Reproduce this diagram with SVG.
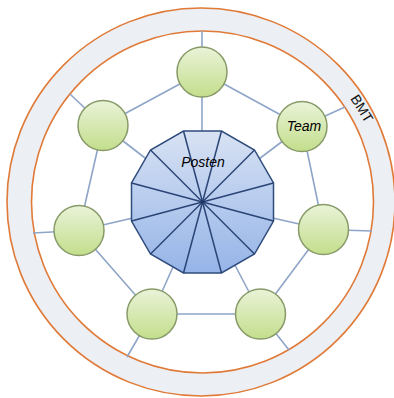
<svg xmlns="http://www.w3.org/2000/svg" width="394" height="398" viewBox="0 0 394 398">
<defs>
<linearGradient id="gBlue" x1="0" y1="0" x2="0" y2="1">
<stop offset="0" stop-color="#d8e2f3"/>
<stop offset="1" stop-color="#95b4e8"/>
</linearGradient>
<linearGradient id="gGreen" x1="0" y1="0" x2="0" y2="1">
<stop offset="0" stop-color="#e9f3d8"/>
<stop offset="1" stop-color="#c3de8c"/>
</linearGradient>
</defs>
<style>
.ring{fill:none;stroke:#e07a38;stroke-width:1.6}
.conn line{stroke:#8ea5c8;stroke-width:1.6}
.team{fill:url(#gGreen);stroke:#879a68;stroke-width:1.5}
.lbl{font-family:"Liberation Sans",Arial,sans-serif;font-style:italic;font-size:14px;fill:#000}
.spoke{stroke:#2a4575;stroke-width:1.5}
</style>
<rect width="394" height="398" fill="#ffffff"/>
<g id="bmt">
<path d="M201,8 a194,194 0 1 0 0.01,0 Z M202.5,31 a171,171 0 1 1 -0.01,0 Z" fill="#eceff4" fill-rule="evenodd"/>
<circle class="ring" cx="201" cy="202" r="194"/>
<circle class="ring" cx="202.5" cy="202" r="171"/>
<text x="362" y="108.5" transform="rotate(58 362 108.5)" text-anchor="middle" dominant-baseline="central" font-family="Liberation Sans,Arial,sans-serif" font-size="14" fill="#111">BMT</text>
</g>
<g id="connectors" class="conn">
<line x1="202" y1="72" x2="202" y2="31"/>
<line x1="103" y1="125.5" x2="70" y2="94"/>
<line x1="302" y1="126.5" x2="345" y2="107"/>
<line x1="79" y1="230.5" x2="33" y2="233"/>
<line x1="323.5" y1="229.5" x2="372" y2="231"/>
<line x1="152" y1="314" x2="127" y2="357"/>
<line x1="260.5" y1="314" x2="289" y2="350"/>
<line x1="202" y1="72" x2="103" y2="125.5"/>
<line x1="202" y1="72" x2="302" y2="126.5"/>
<line x1="103" y1="125.5" x2="79" y2="230.5"/>
<line x1="302" y1="126.5" x2="323.5" y2="229.5"/>
<line x1="79" y1="230.5" x2="152" y2="314"/>
<line x1="323.5" y1="229.5" x2="260.5" y2="314"/>
<line x1="152" y1="314" x2="260.5" y2="314"/>
<line x1="202" y1="72" x2="202" y2="202"/>
<line x1="103" y1="125.5" x2="202" y2="202"/>
<line x1="302" y1="126.5" x2="202" y2="202"/>
<line x1="79" y1="230.5" x2="202" y2="202"/>
<line x1="323.5" y1="229.5" x2="202" y2="202"/>
<line x1="152" y1="314" x2="202" y2="202"/>
<line x1="260.5" y1="314" x2="202" y2="202"/>
</g>
<g id="posten">
<polygon points="183.5,131 221.5,131 254.5,150 273.5,183 273.5,221 254.5,254 221.5,273 183.5,273 150.5,254 131.5,221 131.5,183 150.5,150" fill="url(#gBlue)" stroke="#2f4c7c" stroke-width="1.5"/>
<g class="spoke">
<line x1="202.5" y1="202" x2="183.5" y2="131"/>
<line x1="202.5" y1="202" x2="221.5" y2="131"/>
<line x1="202.5" y1="202" x2="254.5" y2="150"/>
<line x1="202.5" y1="202" x2="273.5" y2="183"/>
<line x1="202.5" y1="202" x2="273.5" y2="221"/>
<line x1="202.5" y1="202" x2="254.5" y2="254"/>
<line x1="202.5" y1="202" x2="221.5" y2="273"/>
<line x1="202.5" y1="202" x2="183.5" y2="273"/>
<line x1="202.5" y1="202" x2="150.5" y2="254"/>
<line x1="202.5" y1="202" x2="131.5" y2="221"/>
<line x1="202.5" y1="202" x2="131.5" y2="183"/>
<line x1="202.5" y1="202" x2="150.5" y2="150"/>
</g>
<circle cx="202.5" cy="202" r="1.8" fill="#1d3563"/>
<text class="lbl" x="203" y="167" text-anchor="middle">Posten</text>
</g>
<g id="team-top"><circle class="team" cx="202" cy="72" r="25"/></g>
<g id="team-ul"><circle class="team" cx="103" cy="125.5" r="25"/></g>
<g id="team-ur"><circle class="team" cx="302" cy="126.5" r="25"/><text class="lbl" x="304" y="131" text-anchor="middle">Team</text></g>
<g id="team-l"><circle class="team" cx="79" cy="230.5" r="25"/></g>
<g id="team-r"><circle class="team" cx="323.5" cy="229.5" r="25"/></g>
<g id="team-bl"><circle class="team" cx="152" cy="314" r="25"/></g>
<g id="team-br"><circle class="team" cx="260.5" cy="314" r="25"/></g>
</svg>
